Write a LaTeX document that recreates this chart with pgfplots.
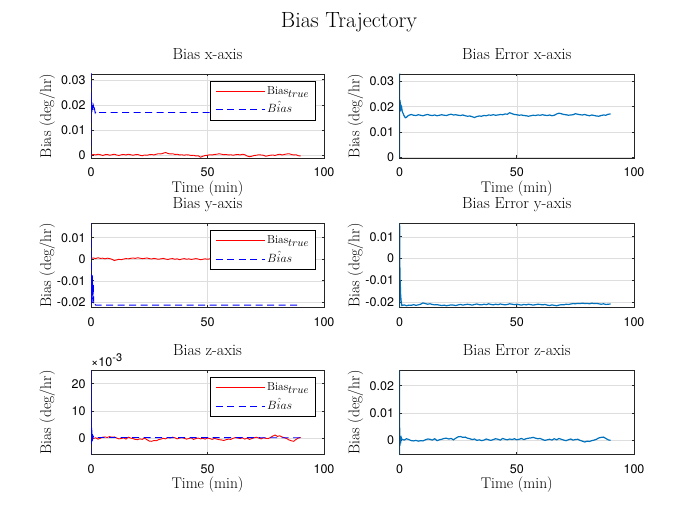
\documentclass[border=0pt]{standalone}
\usepackage{pgfplots}
\pgfplotsset{compat=1.18}
\usepackage{fontspec}
\newfontfamily\ticksf{TeX Gyre Heros}
\definecolor{mblue}{rgb}{0,0.447,0.741}
\definecolor{axgray}{rgb}{0.15,0.15,0.15}
\definecolor{gridgray}{rgb}{0.87,0.87,0.87}
\newcommand{\tickfont}{\ticksf\fontsize{12.5bp}{14bp}\selectfont}
\newcommand{\labfont}{\fontsize{15.5bp}{18bp}\selectfont}
\newcommand{\btrue}{Bias\raisebox{-3bp}{\fontsize{11bp}{12bp}\selectfont$true$}}
\newcommand{\bhat}{{\fontsize{12bp}{14bp}\selectfont$\hat{Bias}$}}
\pgfplotsset{
 sub/.style={
  scale only axis, height=84bp,
  scaled y ticks=false, scaled x ticks=false,
  xmin=0, xmax=100, xtick={0,50,100}, xticklabels={0,50,100},
  grid=major, grid style={gridgray, line width=0.5bp},
  axis line style={axgray, line width=0.7bp},
  tick style={axgray, line width=0.6bp}, tick align=inside, major tick length=2.5bp,
  xticklabel style={font=\tickfont, anchor=base, yshift=-18.7bp},
  yticklabel style={font=\tickfont, anchor=east, xshift=-2bp},
  title style={font=\fontsize{16bp}{19bp}\selectfont, at={(axis description cs:0.5,1.107)}, anchor=base},
  xlabel style={font=\labfont, at={(axis description cs:0.5,-0.405)}, anchor=base},
  ylabel style={font=\labfont, at={(axis description cs:-0.171,0.5)}, anchor=base},
  xlabel={Time (min)}, ylabel={Bias (deg/hr)},
  legend cell align=left,
  legend image code/.code={\draw[##1] (0bp,0bp) -- (49bp,0bp);},
  legend style={at={(rel axis cs:1,1)}, anchor=north east, xshift=-8bp, yshift=-7bp,
    draw=black, line width=0.6bp, fill=white, font=\fontsize{11.5bp}{13bp}\selectfont,
    inner xsep=5bp, inner ysep=2bp, row sep=2.6bp,
    nodes={inner sep=2bp, text height=9bp, text depth=3bp}},
 },
 truel/.style={red, line width=0.9bp},
 hatl/.style={blue, line width=0.9bp, dash pattern=on 7bp off 4.5bp},
 errl/.style={mblue, line width=1.2bp},
}
\begin{document}
\begin{tikzpicture}
\useasboundingbox (0,0) rectangle (700bp,525bp);
\node[font=\fontsize{22bp}{26bp}\selectfont, anchor=base] at (349bp,497.7bp) {Bias Trajectory};

% ---------- Bias x-axis ----------
\begin{axis}[sub, at={(91bp,367bp)}, anchor=south west, width=233bp,
  ymin=-0.0011, ymax=0.0323, ytick={0,0.01,0.02,0.03}, yticklabels={0,0.01,0.02,0.03},
  title={Bias x-axis}]
\addplot[truel] coordinates {(0,0.0000)(1,0.0003)(2,0.0001)(3,0.0004)(4,0.0002)(5,-0.0001)(6,0.0002)(7,0.0003)(8,0.0000)(9,0.0002)(10,0.0004)(11,0.0001)(12,-0.0001)(13,0.0002)(14,0.0003)(15,0.0001)(16,0.0004)(17,0.0002)(18,0.0000)(19,0.0002)(20,0.0003)(21,0.0000)(22,-0.0002)(23,0.0001)(24,0.0000)(25,0.0002)(26,0.0003)(27,0.0001)(28,0.0004)(29,0.0006)(30,0.0005)(31,0.0008)(32,0.0011)(33,0.0007)(34,0.0005)(35,0.0006)(36,0.0003)(37,0.0004)(38,0.0001)(39,0.0002)(40,0.0000)(41,0.0002)(42,0.0001)(43,-0.0001)(44,0.0000)(45,-0.0003)(46,-0.0002)(47,-0.0008)(48,-0.0004)(49,-0.0001)(50,0.0000)(51,0.0002)(52,0.0001)(53,0.0003)(54,0.0004)(55,0.0006)(56,0.0004)(57,0.0002)(58,0.0003)(59,0.0001)(60,0.0002)(61,0.0000)(62,0.0002)(63,0.0003)(64,0.0001)(65,0.0004)(66,0.0002)(67,-0.0003)(68,-0.0006)(69,-0.0004)(70,-0.0001)(71,0.0000)(72,0.0002)(73,0.0001)(74,0.0000)(75,-0.0004)(76,-0.0002)(77,0.0000)(78,0.0001)(79,-0.0001)(80,0.0002)(81,0.0004)(82,0.0001)(83,0.0003)(84,0.0005)(85,0.0006)(86,0.0003)(87,0.0001)(88,0.0002)(89,-0.0002)(90,-0.0003)};
\addlegendentry{\btrue}
\addplot[hatl] coordinates {(0,-0.001)(0.01,0.06)(0.05,0.016)(0.1,0.021)(0.2,0.0225)(0.3,0.019)(0.4,0.021)(0.5,0.018)(0.6,0.0205)(0.8,0.0185)(1.0,0.0195)(1.2,0.0175)(1.5,0.0185)(1.8,0.0168)(2.2,0.0174)(2.6,0.0168)(3,0.017)(90,0.017)};
\addlegendentry{\bhat}
\end{axis}

% ---------- Bias Error x-axis ----------
\begin{axis}[sub, at={(399.5bp,367bp)}, anchor=south west, width=234.5bp,
  ymin=-0.0004, ymax=0.033, ytick={0,0.01,0.02,0.03}, yticklabels={0,0.01,0.02,0.03},
  title={Bias Error x-axis}]
\addplot[errl] coordinates {(0,-0.001)(0.01,0.04)(0.05,0.0205)(0.2,0.0195)(0.4,0.0208)(0.6,0.019)(0.9,0.0198)(1.2,0.018)(1.6,0.0172)(2.0,0.0163)(2.5,0.0156)(3,0.0158)(3.5,0.0163)(4,0.0166)(5,0.0169)(6,0.0166)(7,0.0165)(8,0.0168)(9,0.0166)(10,0.0164)(11,0.0167)(12,0.0169)(13,0.0166)(14,0.0165)(15,0.0167)(16,0.0164)(17,0.0166)(18,0.0168)(19,0.0166)(20,0.0165)(21,0.0168)(22,0.0170)(23,0.0167)(24,0.0168)(25,0.0166)(26,0.0165)(27,0.0167)(28,0.0164)(29,0.0162)(30,0.0163)(31,0.0160)(32,0.0157)(33,0.0161)(34,0.0163)(35,0.0162)(36,0.0165)(37,0.0164)(38,0.0167)(39,0.0166)(40,0.0168)(41,0.0166)(42,0.0167)(43,0.0169)(44,0.0168)(45,0.0171)(46,0.0170)(47,0.0176)(48,0.0172)(49,0.0169)(50,0.0168)(51,0.0166)(52,0.0167)(53,0.0165)(54,0.0164)(55,0.0162)(56,0.0164)(57,0.0166)(58,0.0165)(59,0.0167)(60,0.0166)(61,0.0168)(62,0.0166)(63,0.0165)(64,0.0167)(65,0.0164)(66,0.0166)(67,0.0171)(68,0.0174)(69,0.0172)(70,0.0169)(71,0.0168)(72,0.0166)(73,0.0167)(74,0.0168)(75,0.0172)(76,0.0170)(77,0.0168)(78,0.0167)(79,0.0169)(80,0.0166)(81,0.0164)(82,0.0167)(83,0.0165)(84,0.0163)(85,0.0162)(86,0.0165)(87,0.0167)(88,0.0166)(89,0.0170)(90,0.0171)};
\end{axis}

% ---------- Bias y-axis ----------
\begin{axis}[sub, at={(91bp,217.5bp)}, anchor=south west, width=233bp,
  ymin=-0.0224, ymax=0.0166, ytick={-0.02,-0.01,0,0.01}, yticklabels={-0.02,-0.01,0,0.01},
  title={Bias y-axis}, xlabel={}]
\addplot[truel] coordinates {(0,0.0004)(1,0.0006)(2,0.0003)(3,0.0007)(4,0.0004)(5,0.0005)(6,0.0002)(7,0.0005)(8,0.0003)(9,0.0000)(10,-0.0006)(11,-0.0003)(12,0.0000)(13,-0.0002)(14,0.0001)(15,0.0003)(16,0.0002)(17,0.0004)(18,0.0006)(19,0.0004)(20,0.0007)(21,0.0005)(22,0.0003)(23,0.0004)(24,0.0006)(25,0.0003)(26,0.0001)(27,0.0004)(28,0.0002)(29,0.0000)(30,0.0002)(31,0.0004)(32,0.0001)(33,-0.0001)(34,0.0002)(35,0.0003)(36,0.0000)(37,0.0002)(38,-0.0002)(39,0.0001)(40,0.0003)(41,0.0000)(42,0.0002)(43,-0.0001)(44,0.0001)(45,0.0003)(46,0.0001)(47,-0.0002)(48,0.0000)(49,0.0002)(50,0.0000)(51,0.0002)(52,0.0004)(53,0.0001)(54,0.0003)(55,0.0000)(56,0.0002)(57,0.0004)(58,0.0002)(59,0.0000)(60,0.0001)(61,0.0003)(62,0.0001)(63,0.0004)(64,0.0006)(65,0.0003)(66,0.0005)(67,0.0007)(68,0.0004)(69,0.0002)(70,0.0003)(71,0.0000)(72,0.0001)(73,-0.0001)(74,-0.0003)(75,-0.0002)(76,-0.0004)(77,-0.0003)(78,-0.0005)(79,-0.0003)(80,-0.0004)(81,-0.0002)(82,-0.0005)(83,-0.0003)(84,-0.0004)(85,-0.0002)(86,0.0000)(87,-0.0002)(88,0.0001)(89,0.0000)(90,-0.0001)};
\addlegendentry{\btrue}
\addplot[hatl] coordinates {(0,0.0)(0.01,0.05)(0.03,-0.03)(0.08,0.01)(0.2,-0.018)(0.3,-0.008)(0.45,-0.02)(0.6,-0.0075)(0.8,-0.019)(1.0,-0.012)(1.2,-0.0213)(1.5,-0.0205)(2,-0.0213)(90,-0.0213)};
\addlegendentry{\bhat}
\end{axis}

% ---------- Bias Error y-axis ----------
\begin{axis}[sub, at={(399.5bp,217.5bp)}, anchor=south west, width=234.5bp,
  ymin=-0.0225, ymax=0.0161, ytick={-0.02,-0.01,0,0.01}, yticklabels={-0.02,-0.01,0,0.01},
  title={Bias Error y-axis}, xlabel={}]
\addplot[errl] coordinates {(0,-0.03)(0.01,0.03)(0.1,0.004)(0.2,-0.008)(0.35,-0.012)(0.5,-0.017)(0.7,-0.0195)(1,-0.0216)(2,-0.0213)(3,-0.0217)(4,-0.0214)(5,-0.0215)(6,-0.0212)(7,-0.0215)(8,-0.0213)(9,-0.0210)(10,-0.0204)(11,-0.0207)(12,-0.0210)(13,-0.0208)(14,-0.0211)(15,-0.0213)(16,-0.0212)(17,-0.0214)(18,-0.0216)(19,-0.0214)(20,-0.0217)(21,-0.0215)(22,-0.0213)(23,-0.0214)(24,-0.0216)(25,-0.0213)(26,-0.0211)(27,-0.0214)(28,-0.0212)(29,-0.0210)(30,-0.0212)(31,-0.0214)(32,-0.0211)(33,-0.0209)(34,-0.0212)(35,-0.0213)(36,-0.0210)(37,-0.0212)(38,-0.0208)(39,-0.0211)(40,-0.0213)(41,-0.0210)(42,-0.0212)(43,-0.0209)(44,-0.0211)(45,-0.0213)(46,-0.0211)(47,-0.0208)(48,-0.0210)(49,-0.0212)(50,-0.0210)(51,-0.0212)(52,-0.0214)(53,-0.0211)(54,-0.0213)(55,-0.0210)(56,-0.0212)(57,-0.0214)(58,-0.0212)(59,-0.0210)(60,-0.0211)(61,-0.0213)(62,-0.0211)(63,-0.0214)(64,-0.0216)(65,-0.0213)(66,-0.0215)(67,-0.0217)(68,-0.0214)(69,-0.0212)(70,-0.0213)(71,-0.0210)(72,-0.0211)(73,-0.0209)(74,-0.0207)(75,-0.0208)(76,-0.0206)(77,-0.0207)(78,-0.0205)(79,-0.0207)(80,-0.0206)(81,-0.0208)(82,-0.0205)(83,-0.0207)(84,-0.0206)(85,-0.0208)(86,-0.0210)(87,-0.0208)(88,-0.0211)(89,-0.0210)(90,-0.0209)};
\end{axis}

% ---------- Bias z-axis ----------
\begin{axis}[sub, name=bl, at={(91bp,70.5bp)}, anchor=south west, width=233bp,
  ymin=-0.0058, ymax=0.0248, ytick={0,0.01,0.02}, yticklabels={0,10,20},
  title={Bias z-axis}]
\addplot[truel] coordinates {(0,0.0002)(1,0.0000)(2,0.0003)(3,-0.0002)(4,0.0001)(5,0.0005)(6,0.0006)(7,0.0004)(8,0.0007)(9,0.0005)(10,0.0006)(11,0.0002)(12,-0.0001)(13,0.0000)(14,0.0003)(15,-0.0002)(16,0.0005)(17,0.0002)(18,0.0000)(19,-0.0003)(20,-0.0004)(21,-0.0001)(22,-0.0003)(23,0.0002)(24,-0.0004)(25,-0.0009)(26,-0.0010)(27,-0.0007)(28,-0.0008)(29,-0.0004)(30,-0.0002)(31,0.0001)(32,-0.0001)(33,0.0004)(34,0.0002)(35,0.0005)(36,0.0003)(37,-0.0001)(38,0.0002)(39,0.0004)(40,0.0001)(41,-0.0002)(42,0.0000)(43,0.0003)(44,-0.0003)(45,0.0000)(46,0.0002)(47,-0.0001)(48,0.0001)(49,-0.0002)(50,0.0002)(51,0.0000)(52,-0.0003)(53,0.0001)(54,-0.0002)(55,-0.0004)(56,-0.0005)(57,-0.0007)(58,-0.0004)(59,-0.0002)(60,-0.0003)(61,0.0001)(62,0.0004)(63,0.0002)(64,0.0000)(65,0.0003)(66,-0.0002)(67,0.0002)(68,-0.0003)(69,0.0000)(70,0.0003)(71,0.0005)(72,0.0002)(73,-0.0001)(74,0.0003)(75,0.0001)(76,0.0000)(77,0.0004)(78,0.0009)(79,0.0013)(80,0.0008)(81,0.0010)(82,0.0006)(83,0.0003)(84,0.0000)(85,-0.0005)(86,-0.0008)(87,-0.0010)(88,-0.0003)(89,0.0002)(90,0.0004)};
\addlegendentry{\btrue}
\addplot[hatl] coordinates {(0,-0.006)(0.005,0.03)(0.05,0.004)(0.15,-0.002)(0.3,0.0047)(0.45,-0.001)(0.6,0.002)(0.8,0.0001)(1,0.0008)(1.5,0.0002)(2,0.0004)(90,0.0003)};
\addlegendentry{\bhat}
\end{axis}
\node[anchor=base west, inner sep=0pt, yshift=4.3bp, font=\tickfont] at (bl.north west) {×10\raisebox{4.5bp}{\fontsize{11bp}{12bp}\selectfont -3}};

% ---------- Bias Error z-axis ----------
\begin{axis}[sub, at={(399.5bp,70.5bp)}, anchor=south west, width=234.5bp,
  ymin=-0.0053, ymax=0.0256, ytick={0,0.01,0.02}, yticklabels={0,0.01,0.02},
  title={Bias Error z-axis}]
\addplot[errl] coordinates {(0,-0.006)(0.005,0.03)(0.05,0.0048)(0.25,-0.0012)(0.4,0.0015)(0.6,-0.0003)(0.8,0.0008)(1,0.0003)(2,0.0000)(3,0.0005)(4,0.0002)(5,-0.0002)(6,-0.0003)(7,-0.0001)(8,-0.0004)(9,-0.0002)(10,-0.0003)(11,0.0001)(12,0.0004)(13,0.0003)(14,0.0000)(15,0.0005)(16,-0.0002)(17,0.0001)(18,0.0003)(19,0.0006)(20,0.0007)(21,0.0004)(22,0.0006)(23,0.0001)(24,0.0007)(25,0.0012)(26,0.0013)(27,0.0010)(28,0.0011)(29,0.0007)(30,0.0005)(31,0.0002)(32,0.0004)(33,-0.0001)(34,0.0001)(35,-0.0002)(36,0.0000)(37,0.0004)(38,0.0001)(39,-0.0001)(40,0.0002)(41,0.0005)(42,0.0003)(43,0.0000)(44,0.0006)(45,0.0003)(46,0.0001)(47,0.0004)(48,0.0002)(49,0.0005)(50,0.0001)(51,0.0003)(52,0.0006)(53,0.0002)(54,0.0005)(55,0.0007)(56,0.0008)(57,0.0010)(58,0.0007)(59,0.0005)(60,0.0006)(61,0.0002)(62,-0.0001)(63,0.0001)(64,0.0003)(65,0.0000)(66,0.0005)(67,0.0001)(68,0.0006)(69,0.0003)(70,0.0000)(71,-0.0002)(72,0.0001)(73,0.0004)(74,0.0000)(75,0.0002)(76,0.0003)(77,-0.0001)(78,-0.0004)(79,-0.0007)(80,-0.0004)(81,-0.0005)(82,-0.0002)(83,0.0000)(84,0.0003)(85,0.0008)(86,0.0010)(87,0.0011)(88,0.0006)(89,0.0001)(90,-0.0001)};
\end{axis}
\end{tikzpicture}
\end{document}
